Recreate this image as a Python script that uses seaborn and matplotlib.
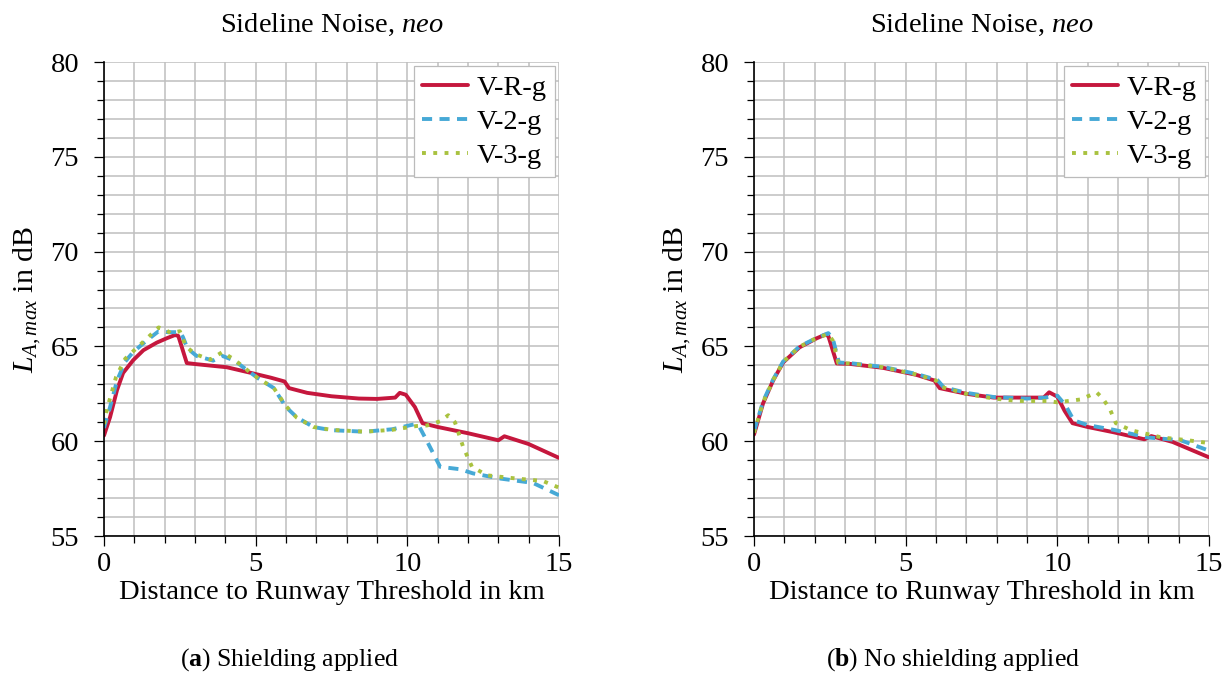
import matplotlib
matplotlib.use("Agg")
import matplotlib.pyplot as plt
from matplotlib.ticker import MultipleLocator
import seaborn as sns
import pandas as pd

# ---- shielding applied ----
vr_a_x = [0.0, 0.2, 0.43, 0.63, 0.96, 1.3, 1.74, 2.07, 2.34, 2.45, 2.73, 3.06, 4.05, 4.8, 5.5,
          5.95, 6.1, 6.7, 7.5, 8.4, 9.0, 9.6, 9.75, 9.95, 10.25, 10.5, 11.0, 12.0, 13.0, 13.2,
          14.0, 15.0]
vr_a_y = [60.3, 61.27, 62.7, 63.6, 64.27, 64.8, 65.2, 65.43, 65.6, 65.55, 64.12, 64.06, 63.9,
          63.62, 63.35, 63.15, 62.8, 62.55, 62.37, 62.25, 62.23, 62.3, 62.55, 62.45, 61.8, 60.95,
          60.75, 60.42, 60.05, 60.26, 59.85, 59.12]

v2_a_x = [0.0, 0.2, 0.43, 0.7, 0.96, 1.4, 1.8, 2.1, 2.5, 2.6, 2.75, 3.05, 3.6, 3.9, 4.3, 4.8,
          5.1, 5.6, 6.0, 6.35, 6.9, 7.5, 8.6, 9.5, 10.25, 10.4, 10.6, 10.85, 11.08, 11.74, 12.17,
          13.06, 14.14, 15.0]
v2_a_y = [60.7, 61.8, 63.2, 64.2, 64.7, 65.3, 65.8, 65.75, 65.75, 65.5, 64.9, 64.5, 64.25, 64.5,
          64.25, 63.65, 63.3, 62.8, 61.8, 61.27, 60.75, 60.58, 60.5, 60.63, 60.9, 60.75, 60.15,
          59.37, 58.65, 58.52, 58.3, 58.03, 57.8, 57.15]

v3_a_x = [0.0, 0.1, 0.4, 0.7, 1.0, 1.4, 1.8, 2.0, 2.2, 2.5, 2.7, 3.0, 3.5, 3.9, 4.3, 4.8, 5.1,
          5.6, 6.0, 6.35, 6.9, 7.5, 8.6, 9.5, 10.3, 10.65, 11.08, 11.35, 11.57, 11.84, 12.13,
          12.63, 13.6, 14.47, 15.0]
v3_a_y = [60.9, 61.7, 63.4, 64.35, 64.8, 65.4, 66.0, 65.9, 65.7, 65.8, 65.0, 64.6, 64.3, 64.7,
          64.3, 63.65, 63.3, 62.8, 61.85, 61.25, 60.75, 60.6, 60.5, 60.6, 60.8, 60.83, 61.05,
          61.37, 61.0, 59.7, 58.65, 58.2, 58.03, 57.9, 57.55]

# ---- no shielding applied ----
vr_b_x = [0.0, 0.3, 0.63, 0.96, 1.5, 2.07, 2.35, 2.45, 2.73, 3.15, 4.25, 5.35, 5.95, 6.12, 7.0,
          7.9, 9.55, 9.73, 10.0, 10.24, 10.5, 11.0, 11.86, 12.87, 13.1, 13.8, 15.0]
vr_b_y = [60.35, 62.0, 63.2, 64.15, 64.95, 65.43, 65.62, 65.55, 64.1, 64.08, 63.87, 63.5, 63.2,
          62.8, 62.5, 62.3, 62.3, 62.58, 62.35, 61.6, 60.95, 60.75, 60.47, 60.1, 60.27, 59.96,
          59.15]

v2_b_x = [0.0, 0.3, 0.63, 0.96, 1.5, 2.07, 2.45, 2.6, 2.8, 3.15, 4.25, 5.35, 6.05, 6.25, 7.0,
          7.9, 9.0, 9.6, 10.0, 10.27, 10.54, 11.0, 11.86, 12.96, 14.06, 14.5, 15.0]
v2_b_y = [60.5, 62.1, 63.25, 64.2, 65.0, 65.45, 65.7, 65.4, 64.15, 64.12, 63.92, 63.55, 63.22,
          62.85, 62.55, 62.33, 62.25, 62.3, 62.4, 61.9, 61.1, 60.85, 60.6, 60.2, 60.05, 59.8,
          59.5]

v3_b_x = [0.0, 0.3, 0.63, 0.96, 1.5, 2.07, 2.45, 2.6, 2.78, 3.15, 4.25, 5.35, 6.0, 6.2, 7.0,
          7.9, 8.7, 9.67, 10.0, 10.76, 11.05, 11.3, 11.5, 11.73, 11.93, 12.43, 13.43, 14.3, 15.0]
v3_b_y = [60.45, 62.05, 63.22, 64.18, 64.98, 65.45, 65.65, 65.3, 64.12, 64.1, 63.9, 63.52, 63.2,
          62.85, 62.5, 62.25, 62.12, 62.12, 62.05, 62.2, 62.4, 62.57, 62.25, 61.7, 60.95, 60.58,
          60.2, 60.05, 59.9]

series_names = ["V-R-g", "V-2-g", "V-3-g"]
panel_titles = ["Sideline Noise, $\\it{neo}$", "Sideline Noise, $\\it{neo}$"]
captions = ["($\\mathbf{a}$) Shielding applied", "($\\mathbf{b}$) No shielding applied"]
x_label = "Distance to Runway Threshold in km"
y_label = "$L_{A,max}$ in dB"

colors = {"V-R-g": "#c5173d", "V-2-g": "#46a9d6", "V-3-g": "#a9c23f"}
dashes = {"V-R-g": "", "V-2-g": (2.6, 1.9), "V-3-g": (1.0, 1.9)}

sns.set_theme(style="white")
plt.rcParams["font.family"] = ["Liberation Serif", "DejaVu Serif"]
plt.rcParams["mathtext.fontset"] = "custom"
plt.rcParams["mathtext.rm"] = "Liberation Serif"
plt.rcParams["mathtext.it"] = "Liberation Serif:italic"
plt.rcParams["mathtext.bf"] = "Liberation Serif:bold"
for key in ["text.color", "axes.labelcolor", "xtick.color", "ytick.color"]:
    plt.rcParams[key] = "black"

FS = 20.5


def long_frame(xs, ys):
    parts = []
    for name, x, y in zip(series_names, xs, ys):
        parts.append(pd.DataFrame({"x": x, "y": y, "series": name}))
    return pd.concat(parts, ignore_index=True)


panels = [
    long_frame([vr_a_x, v2_a_x, v3_a_x], [vr_a_y, v2_a_y, v3_a_y]),
    long_frame([vr_b_x, v2_b_x, v3_b_x], [vr_b_y, v2_b_y, v3_b_y]),
]

W, H = 1231, 677
fig = plt.figure(figsize=(W / 100, H / 100), dpi=100)
axes_left = [104, 754]
cap_centers = [290, 953]

for i, df in enumerate(panels):
    ax = fig.add_axes([axes_left[i] / W, 1 - 536 / H, 455 / W, 474 / H])
    ax.set_axisbelow(True)
    for name in series_names:
        sub = df[df["series"] == name]
        sns.lineplot(data=sub, x="x", y="y", ax=ax, color=colors[name], linewidth=2.8,
                     label=name, sort=False, estimator=None)
        line = ax.lines[-1]
        if dashes[name]:
            line.set_dashes(dashes[name])
            line.set_dash_capstyle("butt")
    ax.set_xlim(0, 15)
    ax.set_ylim(55, 80)
    ax.xaxis.set_major_locator(MultipleLocator(5))
    ax.xaxis.set_minor_locator(MultipleLocator(1))
    ax.yaxis.set_major_locator(MultipleLocator(5))
    ax.yaxis.set_minor_locator(MultipleLocator(1))
    ax.grid(True, which="both", color="#bfbfbf", linewidth=1.1)
    ax.tick_params(which="major", direction="out", length=7.5, width=0.9, color="black",
                   labelsize=FS, bottom=True, left=True)
    ax.tick_params(axis="x", which="major", pad=4)
    ax.tick_params(axis="y", which="major", pad=10.5)
    ax.tick_params(which="minor", direction="out", length=5, width=0.9, color="black",
                   bottom=True, left=True)
    for side in ["top", "right"]:
        ax.spines[side].set_visible(False)
    for side in ["left", "bottom"]:
        ax.spines[side].set_color("black")
        ax.spines[side].set_linewidth(1.2)
    ax.set_xlabel(x_label, fontsize=FS, labelpad=2)
    ax.set_ylabel(y_label, fontsize=21.5)
    ax.yaxis.set_label_coords(-0.135, 0.5)
    ax.set_title(panel_titles[i], fontsize=FS, pad=22)
    leg = ax.legend(loc="upper right", fontsize=FS, frameon=True, fancybox=False,
                    handlelength=1.6, handletextpad=0.3, labelspacing=0.28,
                    borderpad=0.3, borderaxespad=0.15, edgecolor="#bbbbbb")
    leg.get_frame().set_linewidth(0.9)
    leg.get_frame().set_alpha(1.0)
    fig.text(cap_centers[i] / W, 1 - 660 / H, captions[i], ha="center", va="center",
             fontsize=18.5)

fig.savefig("out.png", dpi=100)
